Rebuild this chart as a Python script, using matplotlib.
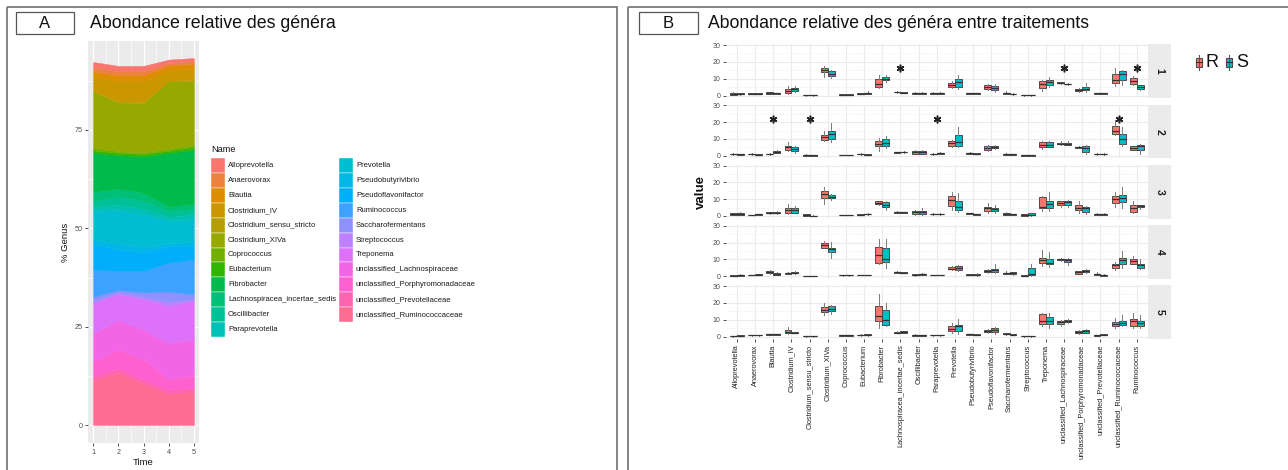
import numpy as np
import matplotlib
matplotlib.use('Agg')
import matplotlib.pyplot as plt
from matplotlib.patches import Rectangle

plt.rcParams['font.family'] = ['Liberation Sans', 'DejaVu Sans']

# ---------------- Panel A data (% Genus, stacked area) ----------------
genera = ["Alloprevotella", "Anaerovorax", "Blautia", "Clostridium_IV",
          "Clostridium_sensu_stricto", "Clostridium_XIVa", "Coprococcus",
          "Eubacterium", "Fibrobacter", "Lachnospiracea_incertae_sedis",
          "Oscillibacter", "Paraprevotella", "Prevotella", "Pseudobutyrivibrio",
          "Pseudoflavonifactor", "Ruminococcus", "Saccharofermentans",
          "Streptococcus", "Treponema", "unclassified_Lachnospiraceae",
          "unclassified_Porphyromonadaceae", "unclassified_Prevotellaceae",
          "unclassified_Ruminococcaceae"]
times = [1, 2, 3, 4, 5]
pct_t1 = [1.4, 1.0, 1.5, 3.4, 0.2, 14.2, 0.8, 0.6, 10.0, 2.2, 1.6, 1.1, 7.1, 1.3, 6.3, 7.0, 1.2, 0.3, 7.8, 7.2, 3.7, 1.0, 11.4]
pct_t2 = [1.4, 1.0, 1.5, 5.1, 0.3, 12.4, 0.4, 0.6, 8.5, 2.0, 2.1, 1.3, 8.5, 1.5, 5.5, 4.9, 0.7, 0.3, 6.6, 7.5, 4.8, 1.1, 13.3]
pct_t3 = [1.4, 1.0, 1.5, 5.3, 0.3, 12.5, 0.4, 0.6, 9.3, 2.0, 2.0, 1.4, 8.3, 1.4, 4.7, 5.5, 1.2, 0.5, 7.7, 7.5, 5.2, 1.0, 10.6]
pct_t4 = [0.9, 0.6, 1.1, 2.8, 0.1, 17.1, 0.6, 0.5, 13.6, 1.3, 1.4, 0.9, 5.8, 0.8, 4.1, 7.4, 2.6, 1.0, 9.5, 9.2, 2.6, 1.1, 7.9]
pct_t5 = [0.8, 0.7, 1.2, 2.8, 0.3, 16.2, 0.6, 0.7, 13.8, 1.5, 1.2, 1.3, 5.6, 1.2, 3.3, 8.9, 1.3, 0.3, 9.8, 9.1, 3.1, 1.0, 8.6]
a_yticks = [0, 25, 50, 75]

# ---------------- Panel B data (boxplots: whislo, q1, med, q3, whishi) ----------------
genera_b = ["Alloprevotella", "Anaerovorax", "Blautia", "Clostridium_IV",
            "Clostridium_sensu_stricto", "Clostridium_XIVa", "Coprococcus",
            "Eubacterium", "Fibrobacter", "Lachnospiracea_incertae_sedis",
            "Oscillibacter", "Paraprevotella", "Prevotella", "Pseudobutyrivibrio",
            "Pseudoflavonifactor", "Saccharofermentans", "Streptococcus",
            "Treponema", "unclassified_Lachnospiraceae",
            "unclassified_Porphyromonadaceae", "unclassified_Prevotellaceae",
            "unclassified_Ruminococcaceae", "Ruminococcus"]
facets = ["1", "2", "3", "4", "5"]
treatments = ["R", "S"]

R_t1 = [(0.2,0.5,1.0,1.4,1.8),(0.7,0.9,1.1,1.3,1.5),(0.8,1.0,1.5,1.8,2.1),(1.0,1.4,2.8,4.0,5.5),(0.0,0.1,0.2,0.3,0.4),
        (11.0,13.9,15.0,16.6,17.4),(0.3,0.4,0.5,0.6,0.7),(0.6,0.8,1.0,1.3,1.6),(4.5,5.2,7.0,9.9,12.3),(1.6,1.8,2.0,2.2,2.4),
        (0.8,1.0,1.3,1.6,1.9),(0.8,1.0,1.3,1.5,1.8),(4.5,5.0,6.3,7.5,8.5),(0.9,1.1,1.3,1.5,1.7),(3.0,4.0,5.0,6.0,7.0),
        (0.7,1.0,1.3,1.6,2.5),(0.0,0.1,0.2,0.3,0.4),(2.5,4.5,7.0,8.5,9.5),(7.0,7.2,7.5,8.0,8.3),(2.0,2.5,3.3,4.0,4.5),
        (0.8,1.0,1.2,1.4,1.6),(5.5,7.3,9.0,12.9,16.5),(6.0,7.1,8.5,10.3,11.5)]
S_t1 = [(0.3,0.6,0.9,1.3,1.6),(0.7,0.9,1.0,1.2,1.4),(0.8,1.0,1.2,1.5,1.7),(1.8,2.8,4.0,4.6,5.5),(0.0,0.1,0.2,0.3,0.4),
        (10.5,11.5,13.0,14.5,15.0),(0.3,0.4,0.5,0.6,0.7),(0.8,1.0,1.2,1.6,2.8),(8.0,9.0,10.0,10.7,12.0),(1.2,1.4,1.6,1.8,2.0),
        (0.8,0.9,1.2,1.5,2.0),(0.8,1.0,1.3,1.6,2.0),(4.0,5.0,8.0,10.0,12.0),(0.9,1.1,1.3,1.5,1.7),(2.0,3.0,4.5,5.5,7.0),
        (0.4,0.6,0.8,1.1,1.3),(0.0,0.1,0.2,0.3,0.4),(5.0,6.0,8.0,9.0,11.0),(6.4,6.6,6.8,7.0,7.2),(2.0,3.0,4.0,5.0,7.5),
        (0.8,1.0,1.2,1.4,1.6),(6.0,9.0,13.0,14.7,15.3),(3.5,4.0,5.0,6.0,6.5)]
R_t2 = [(0.6,0.8,1.0,1.3,1.5),(0.6,0.8,1.0,1.2,1.4),(0.6,0.8,1.0,1.3,1.5),(3.0,3.5,5.0,6.0,8.0),(0.0,0.1,0.3,0.5,1.0),
        (8.5,9.5,11.0,12.5,15.0),(0.3,0.4,0.5,0.6,0.7),(0.6,0.8,1.0,1.3,1.5),(3.0,5.5,7.0,8.5,10.5),(1.4,1.6,2.0,2.3,2.5),
        (0.8,1.3,2.0,3.0,3.2),(0.6,0.8,1.0,1.2,1.4),(5.0,6.0,7.5,9.0,9.5),(1.0,1.2,1.5,1.8,2.0),(3.0,3.5,4.5,6.0,6.5),
        (0.4,0.6,1.0,1.3,1.5),(0.0,0.1,0.3,0.4,0.5),(4.0,5.0,6.5,8.0,9.0),(6.5,6.7,7.0,7.7,9.0),(4.5,4.8,5.0,5.3,5.5),
        (0.6,0.8,1.0,1.2,1.4),(12.5,13.0,15.0,17.5,21.5),(3.5,3.5,4.5,6.0,6.0)]
S_t2 = [(0.6,0.7,0.9,1.1,1.3),(0.2,0.4,0.6,0.9,1.1),(1.4,1.6,2.2,2.8,3.2),(1.5,3.0,4.0,5.0,6.0),(0.0,0.1,0.2,0.3,0.4),
        (8.0,10.0,13.0,15.0,19.5),(0.3,0.4,0.5,0.6,0.7),(0.3,0.5,0.7,1.0,1.2),(4.5,5.5,7.5,10.0,11.5),(1.8,2.0,2.2,2.5,2.7),
        (0.8,1.2,2.3,3.0,3.3),(1.1,1.3,1.5,1.8,2.0),(5.0,5.5,8.0,12.5,17.0),(0.9,1.1,1.3,1.5,1.7),(4.0,4.5,5.0,6.0,6.5),
        (0.5,0.7,0.9,1.1,1.3),(0.0,0.1,0.2,0.3,0.4),(5.0,5.0,6.3,8.0,8.5),(6.2,6.6,7.0,7.5,9.0),(1.0,2.0,4.5,5.5,6.5),
        (0.6,0.8,1.0,1.2,1.4),(6.0,7.0,10.0,13.0,17.0),(1.0,3.5,5.5,6.5,7.0)]
R_t3 = [(0.5,0.8,1.2,1.5,1.8),(0.3,0.4,0.5,0.6,0.8),(1.2,1.5,1.9,2.2,2.5),(1.0,1.5,3.5,5.0,7.0),(0.0,0.2,0.4,0.9,1.0),
        (7.0,10.5,13.0,15.0,17.5),(0.3,0.4,0.5,0.6,0.7),(0.4,0.6,0.8,1.0,1.2),(6.5,7.0,8.0,9.0,9.0),(1.8,2.0,2.2,2.4,2.8),
        (0.6,1.0,2.3,3.2,3.5),(0.8,1.0,1.2,1.4,1.6),(3.5,6.0,9.5,12.0,14.5),(1.1,1.3,1.5,1.8,2.0),(2.0,3.0,4.5,5.5,8.0),
        (0.5,0.7,1.1,1.5,2.2),(0.0,0.2,0.5,1.0,1.2),(3.0,4.5,5.5,11.0,12.0),(5.5,6.5,7.5,9.0,9.0),(1.5,3.5,4.5,6.5,9.0),
        (0.6,0.8,1.0,1.3,1.5),(5.5,7.5,10.0,12.0,14.5),(2.0,2.5,4.5,6.5,9.0)]
S_t3 = [(0.5,0.8,1.3,2.0,2.3),(0.5,0.7,0.9,1.1,1.3),(1.3,1.6,1.9,2.3,2.8),(1.5,2.0,3.8,5.0,5.8),(0.0,0.05,0.1,0.2,0.3),
        (9.5,10.5,11.5,12.5,13.0),(0.3,0.4,0.5,0.6,0.7),(0.7,1.0,1.2,1.4,1.7),(3.5,5.5,6.5,8.5,9.0),(1.8,1.9,2.1,2.3,2.5),
        (0.5,1.0,2.2,3.0,4.5),(0.8,1.0,1.2,1.4,1.6),(2.5,3.5,5.5,9.0,13.5),(0.7,0.8,1.0,1.2,1.4),(2.0,3.0,4.0,5.0,6.5),
        (0.6,0.8,1.0,1.2,1.4),(0.1,0.3,0.8,1.5,2.0),(3.0,4.5,7.0,9.0,14.5),(5.5,6.8,8.5,9.0,9.5),(1.0,2.5,4.5,5.5,6.0),
        (0.6,0.8,1.0,1.3,1.8),(5.0,8.5,10.5,12.5,17.0),(4.0,5.5,6.0,6.5,6.5)]
R_t4 = [(0.0,0.2,0.3,0.6,0.8),(0.5,0.6,0.7,0.9,1.0),(1.2,1.8,2.5,3.3,3.8),(1.2,1.5,1.8,2.1,2.4),(0.0,0.1,0.2,0.3,0.4),
        (16.5,17.0,18.5,20.0,21.0),(0.4,0.5,0.6,0.7,0.8),(0.5,0.6,0.7,0.8,0.9),(7.0,8.0,12.5,17.5,22.0),(1.8,2.0,2.3,2.6,3.0),
        (0.3,0.5,0.8,1.2,1.5),(0.6,0.7,0.8,0.9,1.0),(3.5,4.2,4.5,5.2,6.0),(0.6,0.8,1.0,1.3,1.5),(2.0,2.5,3.2,4.0,4.5),
        (1.2,1.5,1.8,2.2,3.0),(0.0,0.1,0.3,0.8,1.0),(6.0,8.0,9.5,11.0,15.5),(9.0,9.5,10.0,10.5,11.0),(1.2,1.5,2.3,3.0,3.3),
        (0.5,0.8,1.2,1.6,2.5),(4.0,5.0,6.5,7.5,8.5),(7.0,7.5,9.0,10.0,12.0)]
S_t4 = [(0.1,0.3,0.6,1.0,1.2),(0.6,0.7,0.9,1.1,1.2),(0.8,1.0,1.5,2.0,2.3),(1.5,1.8,2.2,2.6,3.0),(0.0,0.1,0.2,0.3,0.4),
        (11.0,14.5,16.0,17.0,20.5),(0.4,0.5,0.6,0.7,0.8),(0.5,0.6,0.7,0.8,0.9),(5.0,8.5,10.0,17.0,22.0),(1.8,2.0,2.2,2.4,2.6),
        (0.5,0.8,1.2,1.5,2.0),(0.6,0.7,0.8,0.9,1.0),(3.0,4.0,5.0,6.0,6.5),(0.4,0.7,1.0,1.5,1.8),(2.0,2.5,3.8,4.5,7.5),
        (0.8,1.3,1.8,2.5,2.8),(0.3,0.5,1.5,5.0,7.0),(5.5,7.0,8.0,10.5,14.5),(6.5,8.5,9.5,10.5,11.0),(2.2,2.8,3.2,3.6,4.5),
        (0.2,0.4,0.7,1.0,1.2),(5.0,7.5,9.5,11.0,15.0),(4.5,5.0,6.5,7.5,10.0)]
R_t5 = [(0.0,0.1,0.2,0.4,0.5),(0.5,0.6,0.7,0.9,1.0),(0.9,1.0,1.2,1.4,1.6),(1.5,2.0,2.5,3.8,5.5),(0.0,0.1,0.2,0.3,0.4),
        (12.5,14.5,16.0,17.5,20.0),(0.4,0.5,0.6,0.7,0.8),(0.5,0.6,0.8,1.0,1.2),(5.0,9.5,12.0,18.0,25.5),(1.8,2.0,2.3,2.7,3.0),
        (0.3,0.5,0.8,1.1,1.3),(0.5,0.6,0.7,0.8,0.9),(2.0,3.5,4.5,6.0,8.0),(0.8,1.0,1.2,1.4,1.6),(2.0,2.5,3.0,3.8,4.5),
        (1.0,1.2,1.5,1.8,2.0),(0.0,0.1,0.2,0.3,0.4),(6.0,7.5,9.5,13.5,14.0),(6.5,7.5,8.5,9.5,10.0),(1.5,2.0,2.8,3.5,4.0),
        (0.4,0.5,0.7,0.9,1.0),(5.0,6.5,7.5,8.5,11.0),(5.0,6.5,9.0,10.5,14.0)]
S_t5 = [(0.1,0.3,0.5,0.8,1.0),(0.5,0.6,0.8,1.0,1.1),(0.9,1.0,1.2,1.4,1.5),(1.8,2.0,2.3,2.5,2.8),(0.0,0.1,0.2,0.3,0.4),
        (13.5,15.0,16.5,18.0,19.0),(0.4,0.5,0.6,0.7,0.8),(0.4,0.6,1.0,1.4,1.6),(6.5,7.0,10.0,15.5,20.0),(2.0,2.3,2.8,3.2,3.5),
        (0.4,0.5,0.7,0.9,1.0),(0.5,0.6,0.7,0.8,0.9),(1.5,3.0,6.0,7.0,10.5),(0.8,0.9,1.1,1.3,1.4),(1.5,2.5,3.8,5.0,5.8),
        (0.7,0.8,1.0,1.2,1.3),(0.0,0.1,0.2,0.3,0.4),(5.0,7.5,9.5,11.5,14.0),(8.0,8.5,9.0,9.8,10.5),(2.0,2.3,3.3,4.0,4.5),
        (0.6,0.7,1.0,1.3,1.5),(6.5,7.0,8.0,9.5,12.5),(5.0,6.0,8.0,9.5,13.0)]

stars_t1 = ["Lachnospiracea_incertae_sedis", "unclassified_Lachnospiraceae", "Ruminococcus"]
stars_t1_y = 16.4
stars_t2 = ["Blautia", "Clostridium_sensu_stricto", "Paraprevotella", "unclassified_Ruminococcaceae"]
stars_t2_y = 21.6
b_yticks = [0, 10, 20, 30]


# ---------------- helpers ----------------
def hcl_hex(h, c=100.0, l=65.0):
    hr = np.deg2rad(h)
    U, V = c * np.cos(hr), c * np.sin(hr)
    Xn, Yn, Zn = 95.047, 100.0, 108.883
    Y = Yn * ((l + 16) / 116) ** 3
    den = Xn + 15 * Yn + 3 * Zn
    un, vn = 4 * Xn / den, 9 * Yn / den
    u = U / (13 * l) + un
    v = V / (13 * l) + vn
    X = Y * 9 * u / (4 * v)
    Z = Y * (12 - 3 * u - 20 * v) / (4 * v)
    M = np.array([[3.2404542, -1.5371385, -0.4985314],
                  [-0.9692660, 1.8760108, 0.0415560],
                  [0.0556434, -0.2040259, 1.0572252]])
    lin = M @ (np.array([X, Y, Z]) / 100.0)
    out = np.where(lin <= 0.0031308, 12.92 * lin, 1.055 * np.clip(lin, 0, None) ** (1 / 2.4) - 0.055)
    out = np.clip(out, 0, 1)
    return '#%02X%02X%02X' % tuple(int(round(x * 255)) for x in out)


def hue_pal(n):
    hs = np.linspace(15, 375, n + 1)[:-1]
    return [hcl_hex(h % 360) for h in hs]


W, H = 1288, 470
fig = plt.figure(figsize=(W / 100, H / 100), dpi=100)


def ax_px(x0, y0, x1, y1):
    return fig.add_axes([x0 / W, 1 - y1 / H, (x1 - x0) / W, (y1 - y0) / H])


# overlay axes in pixel coords
ov = fig.add_axes([0, 0, 1, 1])
ov.set_xlim(0, W)
ov.set_ylim(H, 0)
ov.axis('off')

border = '#7A7A7A'
# panel borders
ov.add_patch(Rectangle((7, 7), 610, 480, fill=False, ec=border, lw=1.3))
ov.add_patch(Rectangle((628, 7), 680, 480, fill=False, ec=border, lw=1.3))
# label boxes
ov.add_patch(Rectangle((16, 11.5), 58, 22, fill=False, ec='#555555', lw=0.9))
ov.text(45, 23, "A", fontsize=12, ha='center', va='center', color='#111111')
ov.add_patch(Rectangle((639, 11.5), 59, 22, fill=False, ec='#555555', lw=0.9))
ov.text(668, 23, "B", fontsize=12, ha='center', va='center', color='#111111')
ov.text(90, 24, "Abondance relative des généra", fontsize=12.8, ha='left', va='center', color='#111111')
ov.text(708, 24, "Abondance relative des généra entre traitements", fontsize=12.7, ha='left', va='center', color='#111111')

# ---------------- Panel A ----------------
cols = hue_pal(len(genera))
axA = ax_px(88, 40.7, 199, 443.3)
axA.set_facecolor('#EBEBEB')
data_a = np.array([pct_t1, pct_t2, pct_t3, pct_t4, pct_t5]).T  # genus x time
cum = np.zeros(len(times))
for g in range(len(genera) - 1, -1, -1):
    top = cum + data_a[g]
    axA.fill_between(times, cum, top, facecolor=cols[g], edgecolor=cols[g], lw=0.3, zorder=3)
    cum = top
axA.set_xlim(0.8, 5.2)
axA.set_ylim(-4.65, 97.7)
axA.set_xticks(times)
axA.set_xticks([1.5, 2.5, 3.5, 4.5], minor=True)
axA.set_yticks(a_yticks)
axA.set_yticks([12.5, 37.5, 62.5, 87.5], minor=True)
axA.grid(which='major', color='white', lw=0.9, zorder=1)
axA.grid(which='minor', color='white', lw=0.45, zorder=1)
axA.set_axisbelow(True)
for s in axA.spines.values():
    s.set_visible(False)
axA.tick_params(which='major', length=2.5, width=0.6, color='#333333', labelsize=5.2,
                labelcolor='#4D4D4D', pad=1.5)
axA.tick_params(which='minor', length=0)
axA.set_xlabel("Time", fontsize=6.8, labelpad=1.5, color='#111111')
axA.set_ylabel("% Genus", fontsize=6.8, labelpad=3, color='#111111')

# legend A
ov.text(211.5, 150, "Name", fontsize=6.6, ha='left', va='center', color='#111111')
row_h = 14.87
for i, g in enumerate(genera):
    if i < 12:
        x0, r = 211.5, i
    else:
        x0, r = 339.5, i - 12
    y0 = 158.3 + r * row_h
    ov.add_patch(Rectangle((x0, y0), 14, row_h, fc=cols[i], ec='white', lw=0.3))
    ov.text(x0 + 16.5, y0 + row_h / 2, g, fontsize=5.5, ha='left', va='center', color='#1A1A1A')

# ---------------- Panel B ----------------
colR, colS = hue_pal(2)
R_all = [R_t1, R_t2, R_t3, R_t4, R_t5]
S_all = [S_t1, S_t2, S_t3, S_t4, S_t5]
stars = {0: (stars_t1, stars_t1_y), 1: (stars_t2, stars_t2_y)}
ylim_b = (-1.5, 30.4)
pxu = 1.683
n = len(genera_b)
pos = np.arange(1, n + 1)
for k in range(5):
    zero = 95.5 + 60.25 * k
    top_px = zero - ylim_b[1] * pxu
    bot_px = zero - ylim_b[0] * pxu
    ax = ax_px(726, top_px, 1147.7, bot_px)
    ax.set_facecolor('white')
    ax.set_xlim(0.4, n + 0.6)
    ax.set_ylim(*ylim_b)
    ax.set_yticks(b_yticks)
    ax.set_yticks([5, 15, 25], minor=True)
    ax.set_xticks(pos)
    ax.grid(which='major', color='#EBEBEB', lw=0.8, zorder=0)
    ax.grid(which='minor', axis='y', color='#F4F4F4', lw=0.5, zorder=0)
    ax.set_axisbelow(True)
    for s in ax.spines.values():
        s.set_visible(False)
    for stl, off, col in [(R_all[k], -0.19, colR), (S_all[k], 0.19, colS)]:
        st = [dict(whislo=s[0], q1=s[1], med=s[2], q3=s[3], whishi=s[4], fliers=[]) for s in stl]
        ax.bxp(st, positions=pos + off, widths=0.38, patch_artist=True, showfliers=False,
               showcaps=False, manage_ticks=False,
               boxprops=dict(facecolor=col, edgecolor='#4D4D4D', linewidth=0.7),
               medianprops=dict(color='#333333', linewidth=0.9),
               whiskerprops=dict(color='#7A7A7A', linewidth=0.7))
    if k in stars:
        names, yv = stars[k]
        xs = [genera_b.index(nm) + 1 for nm in names]
        ax.plot(xs, [yv] * len(xs), linestyle='none', marker=(6, 2, 0), markersize=5.5,
                markeredgewidth=1.1, color='#222222', zorder=5)
    ax.tick_params(axis='y', which='major', length=2.5, width=0.6, color='#333333', labelsize=5,
                   labelcolor='#4D4D4D', pad=1.5)
    ax.tick_params(which='minor', length=0)
    if k < 4:
        ax.tick_params(axis='x', length=0, labelbottom=False)
    else:
        ax.tick_params(axis='x', length=2.5, width=0.6, color='#333333', labelsize=5.3,
                       labelcolor='#222222', pad=1.5)
        ax.set_xticklabels(genera_b, rotation=90, ha='center', va='top')
    # strip
    ov.add_patch(Rectangle((1148, top_px), 23, bot_px - top_px, fc='#EBEBEB', ec='none'))
    ov.text(1159.5, (top_px + bot_px) / 2, facets[k], rotation=-90, fontsize=7.5, fontweight='bold',
            ha='center', va='center', color='#1A1A1A')

ov.text(701, 192, "value", rotation=90, fontsize=9.5, fontweight='bold', ha='center', va='center',
        color='#111111')

# legend B
for xc, col, lab in [(1199, colR, treatments[0]), (1229, colS, treatments[1])]:
    ov.plot([xc, xc], [54.5, 69.5], color='#555555', lw=0.8)
    ov.add_patch(Rectangle((xc - 3.3, 57.5), 6.6, 9, fc=col, ec='#4D4D4D', lw=0.8))
    ov.plot([xc - 3.3, xc + 3.3], [62, 62], color='#333333', lw=0.8)
    ov.text(xc + 7, 62.5, lab, fontsize=13, ha='left', va='center', color='#111111')

fig.savefig('out.png', dpi=100)
